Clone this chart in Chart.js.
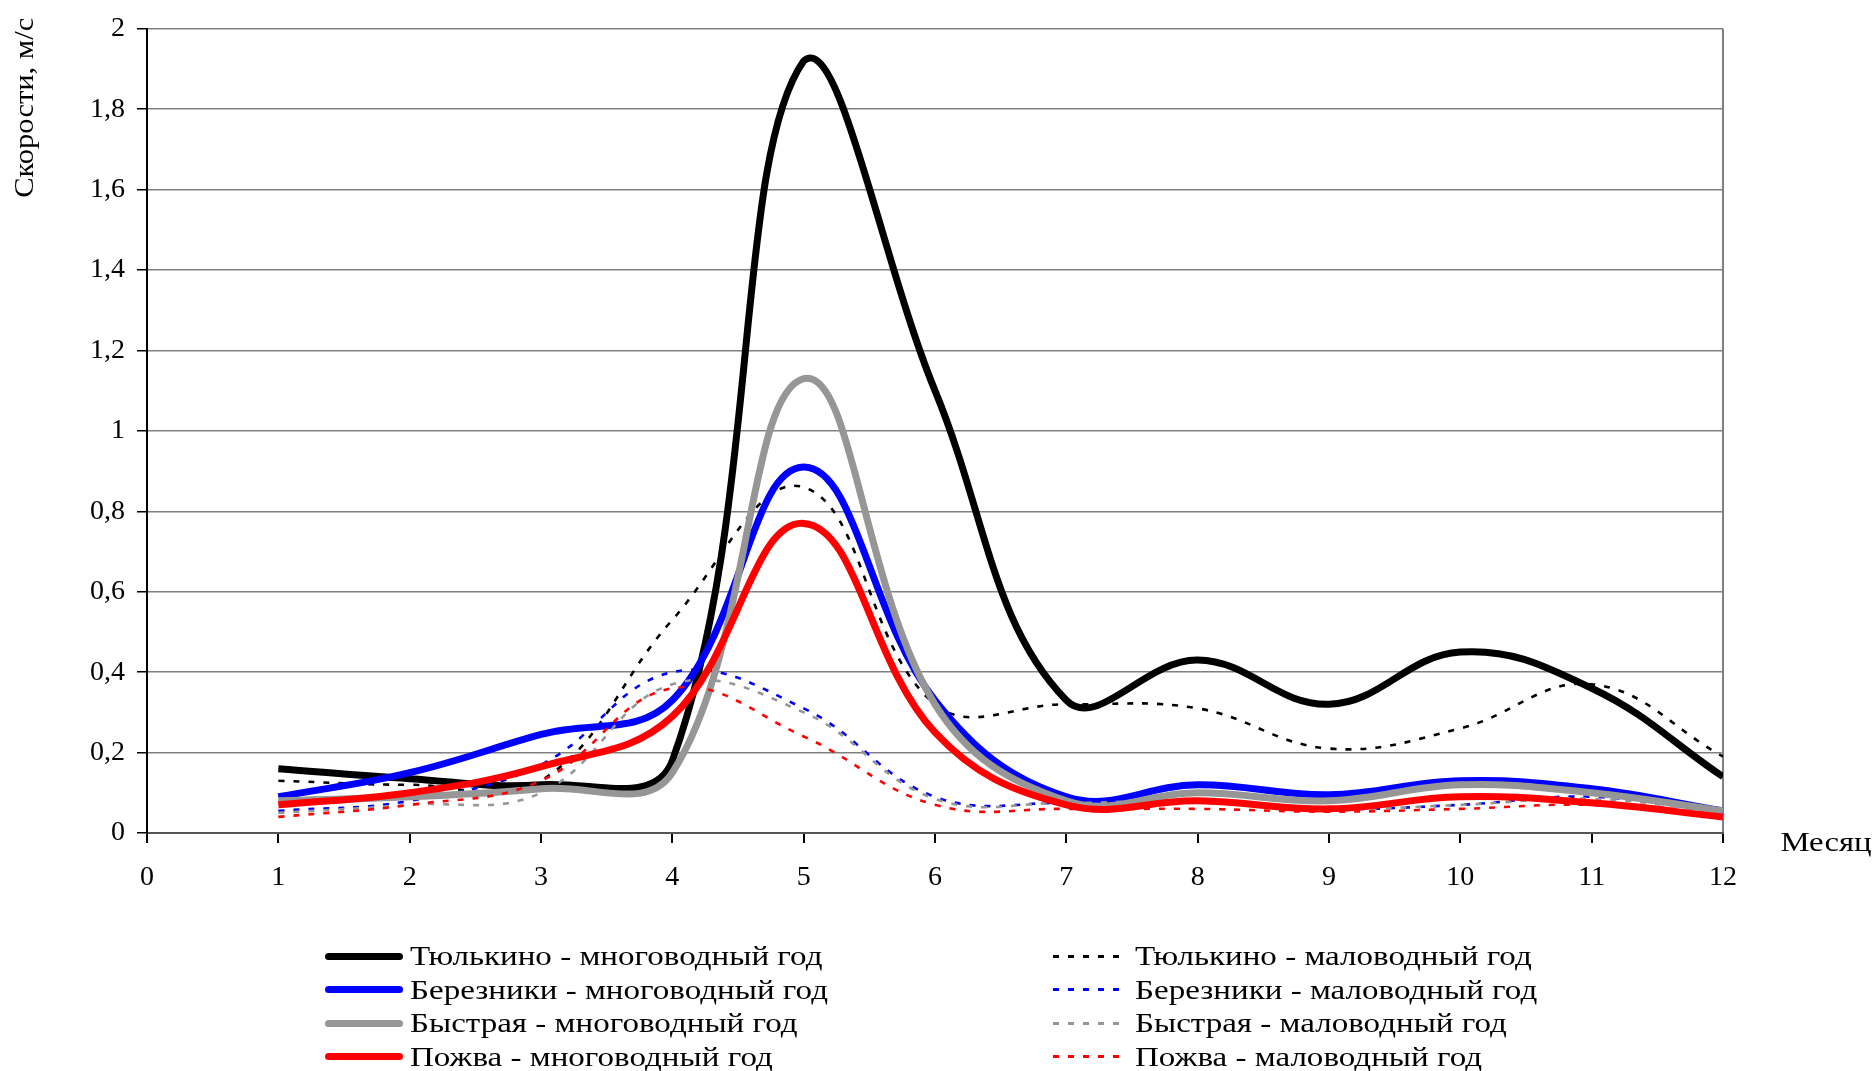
<!DOCTYPE html>
<html>
<head>
<meta charset="utf-8">
<script src="https://cdn.jsdelivr.net/npm/chart.js@4.4.1/dist/chart.umd.min.js"></script>
<style>
  html, body { margin: 0; padding: 0; background: #fff; }
  #wrap { position: relative; width: 1874px; height: 1071px; }
  #speedChart { position: absolute; left: 0; top: 0; }
  #legend { position: absolute; left: 0; top: 0; font-family: "Liberation Serif", "Times New Roman", serif; font-size: 28px; color: #000; }
  .item { position: absolute; display: flex; align-items: center; white-space: nowrap; height: 34px; }
  .txt { display: inline-block; transform: scaleX(1.18); transform-origin: left center; }
</style>
</head>
<body>
<div id="wrap">
  <canvas id="speedChart" width="1874" height="1071"></canvas>
  <div id="legend"></div>
</div>
<script>
// месяцы
const months = [1, 2, 3, 4, 5, 6, 7, 8, 9, 10, 11, 12];

// многоводный год
const tyulkinoHigh  = [0.16, 0.135, 0.12, 0.18, 1.92, 1.10, 0.33, 0.43, 0.32, 0.45, 0.36, 0.14];
const bereznikiHigh = [0.09, 0.15, 0.245, 0.33, 0.91, 0.33, 0.09, 0.12, 0.095, 0.13, 0.11, 0.055];
const bystrayaHigh  = [0.08, 0.09, 0.11, 0.15, 1.13, 0.32, 0.08, 0.10, 0.08, 0.12, 0.10, 0.055];
const pozhvaHigh    = [0.07, 0.10, 0.165, 0.29, 0.77, 0.25, 0.07, 0.08, 0.06, 0.09, 0.075, 0.04];

// маловодный год
const tyulkinoLow  = [0.13, 0.12, 0.13, 0.53, 0.86, 0.32, 0.32, 0.31, 0.21, 0.26, 0.37, 0.19];
const bereznikiLow = [0.055, 0.08, 0.17, 0.40, 0.31, 0.09, 0.075, 0.08, 0.06, 0.07, 0.09, 0.05];
const bystrayaLow  = [0.05, 0.07, 0.10, 0.37, 0.30, 0.085, 0.075, 0.08, 0.06, 0.07, 0.085, 0.05];
const pozhvaLow    = [0.04, 0.07, 0.13, 0.36, 0.24, 0.07, 0.06, 0.06, 0.053, 0.06, 0.07, 0.045];

const stations = ['Тюлькино', 'Березники', 'Быстрая', 'Пожва'];
const colors = ['#000000', '#0000ff', '#969696', '#ff0000'];
const highSeries = [tyulkinoHigh, bereznikiHigh, bystrayaHigh, pozhvaHigh];
const lowSeries = [tyulkinoLow, bereznikiLow, bystrayaLow, pozhvaLow];

const FONT = '"Liberation Serif", "Times New Roman", serif';
const toPoints = arr => months.map((m, i) => ({ x: m, y: arr[i] }));

// порядок как в Excel: многоводный, маловодный, ... (последний рисуется сверху)
const datasets = [];
stations.forEach((name, i) => {
  datasets.push({
    label: name + ' - многоводный год',
    data: toPoints(highSeries[i]),
    borderColor: colors[i],
    borderWidth: 7,
    high: true
  });
  datasets.push({
    label: name + ' - маловодный год',
    data: toPoints(lowSeries[i]),
    borderColor: colors[i],
    borderWidth: 2.6,
    borderDash: [6, 9],
    high: false
  });
});
datasets.forEach((d, i) => {
  d.order = datasets.length - i;
  d.pointRadius = 0;
  d.tension = 0.4;
  d.fill = false;
});

const axisTitles = {
  id: 'axisTitles',
  afterDraw(chart) {
    const c = chart.ctx;
    const a = chart.chartArea;
    c.save();
    c.fillStyle = '#000';
    c.font = '28px ' + FONT;
    c.textAlign = 'center';
    c.textBaseline = 'middle';
    c.translate(26, a.top + 79);
    c.rotate(-Math.PI / 2);
    c.scale(1.09, 1);
    c.fillText('Скорости, м/с', 0, 0);
    c.restore();
    c.save();
    c.fillStyle = '#000';
    c.font = '28px ' + FONT;
    c.textAlign = 'center';
    c.textBaseline = 'middle';
    c.translate(a.right + 103, a.bottom + 11);
    c.scale(1.17, 1);
    c.fillText('Месяц', 0, 0);
    c.restore();
  }
};

const chart = new Chart(document.getElementById('speedChart'), {
  type: 'line',
  data: { datasets },
  options: {
    responsive: false,
    animation: false,
    layout: { padding: { left: 0, top: 26, right: 151, bottom: 0 } },
    plugins: { legend: { display: false }, tooltip: { enabled: false } },
    scales: {
      x: {
        type: 'linear',
        min: 0,
        max: 12,
        afterFit: s => { s.height = 238; },
        ticks: { stepSize: 1, color: '#000', font: { family: FONT, size: 28 }, padding: 18, maxRotation: 0 },
        grid: {
          color: c => c.tick && c.tick.value === 12 ? '#808080' : 'rgba(0,0,0,0)',
          lineWidth: 2,
          tickColor: '#000',
          tickLength: 10,
          drawOnChartArea: true
        },
        border: { color: '#555', width: 2 }
      },
      y: {
        min: 0,
        max: 2,
        afterFit: s => { s.width = 147; },
        ticks: {
          stepSize: 0.2,
          color: '#000',
          font: { family: FONT, size: 28 },
          padding: 12,
          callback: v => String(Number(v.toFixed(1))).replace('.', ',')
        },
        grid: { color: '#808080', lineWidth: 1.5, tickColor: '#000', tickLength: 10 },
        border: { color: '#000', width: 2 }
      }
    }
  },
  plugins: [axisTitles]
});

// легенда в две колонки: многоводный слева, маловодный справа
const legend = document.getElementById('legend');
chart.data.datasets.forEach(d => {
  const row = stations.findIndex(s => d.label.startsWith(s));
  const item = document.createElement('div');
  item.className = 'item';
  item.style.left = (d.high ? 325 : 1053) + 'px';
  item.style.top = (939 + row * 33.5) + 'px';
  const sample = document.createElement('span');
  if (d.high) {
    sample.style.cssText = `display:inline-block;width:78px;height:7px;border-radius:3.5px;background:${d.borderColor};margin-right:7px`;
  } else {
    sample.style.cssText = `display:inline-block;width:67px;height:3px;margin-right:15px;background:repeating-linear-gradient(90deg, ${d.borderColor} 0 6px, transparent 6px 15px)`;
  }
  const text = document.createElement('span');
  text.className = 'txt';
  text.textContent = d.label;
  item.appendChild(sample);
  item.appendChild(text);
  legend.appendChild(item);
});
</script>
</body>
</html>
